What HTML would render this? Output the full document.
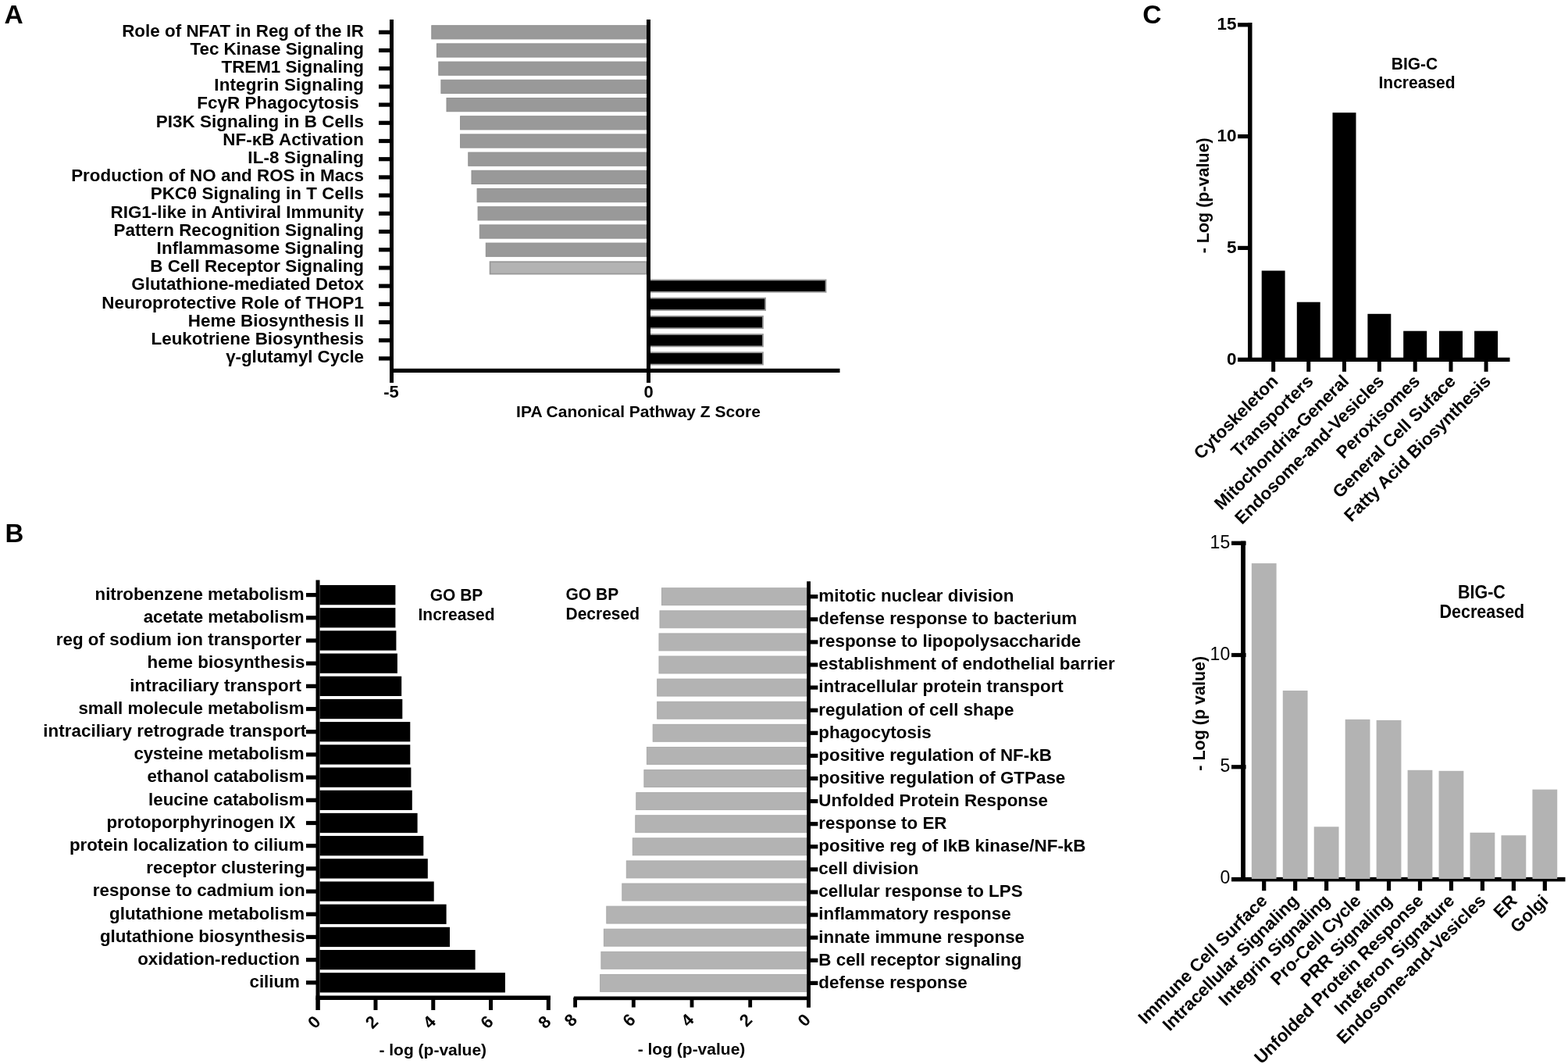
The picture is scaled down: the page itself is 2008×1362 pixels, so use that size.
<!DOCTYPE html>
<html><head><meta charset="utf-8"><title>Figure</title>
<style>
html,body{margin:0;padding:0;background:#fff;overflow:hidden;width:2008px;height:1362px;}
svg{display:block;}
text{font-family:'Liberation Sans', Arial, Helvetica, sans-serif;fill:#000;}
</style></head>
<body>
<svg width="2008" height="1362" viewBox="0 0 2008 1362">
<rect x="0" y="0" width="2008" height="1362" fill="#fff"/>
<text x="5.50" y="30.00" font-size="33.5" font-weight="bold" text-anchor="start" >A</text>
<text x="6.50" y="693.60" font-size="33" font-weight="bold" text-anchor="start" >B</text>
<text x="1463.30" y="29.80" font-size="33.5" font-weight="bold" text-anchor="start" >C</text>
<rect x="552.80" y="32.70" width="275.20" height="17.20" fill="#999999" stroke="#909090" stroke-width="1"/>
<rect x="485.00" y="38.70" width="15.00" height="5.20" fill="#000" />
<text x="466.00" y="46.50" font-size="22.4" font-weight="bold" text-anchor="end"  textLength="309.81" lengthAdjust="spacing">Role of NFAT in Reg of the IR</text>
<rect x="559.40" y="55.90" width="268.60" height="17.20" fill="#999999" stroke="#909090" stroke-width="1"/>
<rect x="485.00" y="61.90" width="15.00" height="5.20" fill="#000" />
<text x="466.00" y="69.70" font-size="22.4" font-weight="bold" text-anchor="end"  textLength="222.45" lengthAdjust="spacing">Tec Kinase Signaling</text>
<rect x="561.80" y="79.10" width="266.20" height="17.20" fill="#999999" stroke="#909090" stroke-width="1"/>
<rect x="485.00" y="85.10" width="15.00" height="5.20" fill="#000" />
<text x="466.00" y="92.90" font-size="22.4" font-weight="bold" text-anchor="end"  textLength="182.48" lengthAdjust="spacing">TREM1 Signaling</text>
<rect x="564.90" y="102.30" width="263.10" height="17.20" fill="#999999" stroke="#909090" stroke-width="1"/>
<rect x="485.00" y="108.30" width="15.00" height="5.20" fill="#000" />
<text x="466.00" y="116.10" font-size="22.4" font-weight="bold" text-anchor="end"  textLength="191.70" lengthAdjust="spacing">Integrin Signaling</text>
<rect x="572.00" y="125.50" width="256.00" height="17.20" fill="#999999" stroke="#909090" stroke-width="1"/>
<rect x="485.00" y="131.50" width="15.00" height="5.20" fill="#000" />
<text x="466.00" y="139.30" font-size="22.4" font-weight="bold" text-anchor="end" style="white-space:pre"  textLength="213.78" lengthAdjust="spacing">FcγR Phagocytosis </text>
<rect x="589.60" y="148.70" width="238.40" height="17.20" fill="#999999" stroke="#909090" stroke-width="1"/>
<rect x="485.00" y="154.70" width="15.00" height="5.20" fill="#000" />
<text x="466.00" y="162.50" font-size="22.4" font-weight="bold" text-anchor="end"  textLength="266.32" lengthAdjust="spacing">PI3K Signaling in B Cells</text>
<rect x="589.60" y="171.90" width="238.40" height="17.20" fill="#999999" stroke="#909090" stroke-width="1"/>
<rect x="485.00" y="177.90" width="15.00" height="5.20" fill="#000" />
<text x="466.00" y="185.70" font-size="22.4" font-weight="bold" text-anchor="end"  textLength="180.79" lengthAdjust="spacing">NF-κB Activation</text>
<rect x="599.80" y="195.10" width="228.20" height="17.20" fill="#999999" stroke="#909090" stroke-width="1"/>
<rect x="485.00" y="201.10" width="15.00" height="5.20" fill="#000" />
<text x="466.00" y="208.90" font-size="22.4" font-weight="bold" text-anchor="end"  textLength="148.70" lengthAdjust="spacing">IL-8 Signaling</text>
<rect x="604.00" y="218.30" width="224.00" height="17.20" fill="#999999" stroke="#909090" stroke-width="1"/>
<rect x="485.00" y="224.30" width="15.00" height="5.20" fill="#000" />
<text x="466.00" y="232.10" font-size="22.4" font-weight="bold" text-anchor="end"  textLength="374.85" lengthAdjust="spacing">Production of NO and ROS in Macs</text>
<rect x="611.10" y="241.50" width="216.90" height="17.20" fill="#999999" stroke="#909090" stroke-width="1"/>
<rect x="485.00" y="247.50" width="15.00" height="5.20" fill="#000" />
<text x="466.00" y="255.30" font-size="22.4" font-weight="bold" text-anchor="end"  textLength="273.32" lengthAdjust="spacing">PKCθ Signaling in T Cells</text>
<rect x="612.10" y="264.70" width="215.90" height="17.20" fill="#999999" stroke="#909090" stroke-width="1"/>
<rect x="485.00" y="270.70" width="15.00" height="5.20" fill="#000" />
<text x="466.00" y="278.50" font-size="22.4" font-weight="bold" text-anchor="end"  textLength="324.51" lengthAdjust="spacing">RIG1-like in Antiviral Immunity</text>
<rect x="614.30" y="287.90" width="213.70" height="17.20" fill="#999999" stroke="#909090" stroke-width="1"/>
<rect x="485.00" y="293.90" width="15.00" height="5.20" fill="#000" />
<text x="466.00" y="301.70" font-size="22.4" font-weight="bold" text-anchor="end"  textLength="320.40" lengthAdjust="spacing">Pattern Recognition Signaling</text>
<rect x="622.30" y="311.10" width="205.70" height="17.20" fill="#999999" stroke="#909090" stroke-width="1"/>
<rect x="485.00" y="317.10" width="15.00" height="5.20" fill="#000" />
<text x="466.00" y="324.90" font-size="22.4" font-weight="bold" text-anchor="end"  textLength="265.38" lengthAdjust="spacing">Inflammasome Signaling</text>
<rect x="627.60" y="335.20" width="200.40" height="15.40" fill="#b3b3b3" stroke="#999999" stroke-width="1.8"/>
<rect x="485.00" y="340.30" width="15.00" height="5.20" fill="#000" />
<text x="466.00" y="348.10" font-size="22.4" font-weight="bold" text-anchor="end"  textLength="273.72" lengthAdjust="spacing">B Cell Receptor Signaling</text>
<rect x="830.00" y="358.40" width="227.60" height="15.40" fill="#000" stroke="#999999" stroke-width="1.8"/>
<rect x="485.00" y="363.50" width="15.00" height="5.20" fill="#000" />
<text x="466.00" y="371.30" font-size="22.4" font-weight="bold" text-anchor="end"  textLength="297.68" lengthAdjust="spacing">Glutathione-mediated Detox</text>
<rect x="830.00" y="381.60" width="150.10" height="15.40" fill="#000" stroke="#999999" stroke-width="1.8"/>
<rect x="485.00" y="386.70" width="15.00" height="5.20" fill="#000" />
<text x="466.00" y="394.50" font-size="22.4" font-weight="bold" text-anchor="end"  textLength="335.77" lengthAdjust="spacing">Neuroprotective Role of THOP1</text>
<rect x="830.00" y="404.80" width="147.00" height="15.40" fill="#000" stroke="#999999" stroke-width="1.8"/>
<rect x="485.00" y="409.90" width="15.00" height="5.20" fill="#000" />
<text x="466.00" y="417.70" font-size="22.4" font-weight="bold" text-anchor="end"  textLength="225.13" lengthAdjust="spacing">Heme Biosynthesis II</text>
<rect x="830.00" y="428.00" width="147.00" height="15.40" fill="#000" stroke="#999999" stroke-width="1.8"/>
<rect x="485.00" y="433.10" width="15.00" height="5.20" fill="#000" />
<text x="466.00" y="440.90" font-size="22.4" font-weight="bold" text-anchor="end"  textLength="272.50" lengthAdjust="spacing">Leukotriene Biosynthesis</text>
<rect x="830.00" y="451.20" width="147.00" height="15.40" fill="#000" stroke="#999999" stroke-width="1.8"/>
<rect x="485.00" y="456.30" width="15.00" height="5.20" fill="#000" />
<text x="466.00" y="464.10" font-size="22.4" font-weight="bold" text-anchor="end"  textLength="176.75" lengthAdjust="spacing">γ-glutamyl Cycle</text>
<rect x="499.00" y="25.00" width="5.00" height="465.00" fill="#000" />
<rect x="828.00" y="25.00" width="5.00" height="465.00" fill="#000" />
<rect x="499.00" y="471.80" width="576.50" height="5.20" fill="#000" />
<text x="501.00" y="509.00" font-size="22" font-weight="bold" text-anchor="middle" >-5</text>
<text x="830.50" y="509.00" font-size="22" font-weight="bold" text-anchor="middle" >0</text>
<text x="817.50" y="534.00" font-size="21" font-weight="bold" text-anchor="middle" >IPA Canonical Pathway Z Score</text>
<rect x="409.50" y="748.95" width="96.90" height="25.30" fill="#000" />
<rect x="392.00" y="759.00" width="13.00" height="5.20" fill="#000" />
<text x="389.60" y="767.90" font-size="22.35" font-weight="bold" text-anchor="end"  textLength="268.02" lengthAdjust="spacing">nitrobenzene metabolism</text>
<rect x="409.50" y="778.14" width="96.90" height="25.30" fill="#000" />
<rect x="392.00" y="788.19" width="13.00" height="5.20" fill="#000" />
<text x="389.60" y="797.09" font-size="22.35" font-weight="bold" text-anchor="end"  textLength="205.89" lengthAdjust="spacing">acetate metabolism</text>
<rect x="409.50" y="807.33" width="97.90" height="25.30" fill="#000" />
<rect x="392.00" y="817.38" width="13.00" height="5.20" fill="#000" />
<text x="385.90" y="826.28" font-size="22.35" font-weight="bold" text-anchor="end"  textLength="314.24" lengthAdjust="spacing">reg of sodium ion transporter</text>
<rect x="409.50" y="836.52" width="99.40" height="25.30" fill="#000" />
<rect x="392.00" y="846.57" width="13.00" height="5.20" fill="#000" />
<text x="390.40" y="855.47" font-size="22.35" font-weight="bold" text-anchor="end"  textLength="201.87" lengthAdjust="spacing">heme biosynthesis</text>
<rect x="409.50" y="865.71" width="104.70" height="25.30" fill="#000" />
<rect x="392.00" y="875.76" width="13.00" height="5.20" fill="#000" />
<text x="385.90" y="884.66" font-size="22.35" font-weight="bold" text-anchor="end"  textLength="219.60" lengthAdjust="spacing">intraciliary transport</text>
<rect x="409.50" y="894.90" width="105.80" height="25.30" fill="#000" />
<rect x="392.00" y="904.95" width="13.00" height="5.20" fill="#000" />
<text x="389.60" y="913.85" font-size="22.35" font-weight="bold" text-anchor="end"  textLength="289.18" lengthAdjust="spacing">small molecule metabolism</text>
<rect x="409.50" y="924.09" width="115.80" height="25.30" fill="#000" />
<rect x="392.00" y="934.14" width="13.00" height="5.20" fill="#000" />
<text x="392.10" y="943.04" font-size="22.35" font-weight="bold" text-anchor="end"  textLength="336.77" lengthAdjust="spacing">intraciliary retrograde transport</text>
<rect x="409.50" y="953.28" width="115.80" height="25.30" fill="#000" />
<rect x="392.00" y="963.33" width="13.00" height="5.20" fill="#000" />
<text x="389.60" y="972.23" font-size="22.35" font-weight="bold" text-anchor="end"  textLength="218.21" lengthAdjust="spacing">cysteine metabolism</text>
<rect x="409.50" y="982.47" width="116.90" height="25.30" fill="#000" />
<rect x="392.00" y="992.52" width="13.00" height="5.20" fill="#000" />
<text x="389.60" y="1001.42" font-size="22.35" font-weight="bold" text-anchor="end"  textLength="201.09" lengthAdjust="spacing">ethanol catabolism</text>
<rect x="409.50" y="1011.66" width="118.30" height="25.30" fill="#000" />
<rect x="392.00" y="1021.71" width="13.00" height="5.20" fill="#000" />
<text x="389.60" y="1030.61" font-size="22.35" font-weight="bold" text-anchor="end"  textLength="199.54" lengthAdjust="spacing">leucine catabolism</text>
<rect x="409.50" y="1040.85" width="125.10" height="25.30" fill="#000" />
<rect x="392.00" y="1050.90" width="13.00" height="5.20" fill="#000" />
<text x="378.50" y="1059.80" font-size="22.35" font-weight="bold" text-anchor="end"  textLength="242.05" lengthAdjust="spacing">protoporphyrinogen IX</text>
<rect x="409.50" y="1070.04" width="132.80" height="25.30" fill="#000" />
<rect x="392.00" y="1080.09" width="13.00" height="5.20" fill="#000" />
<text x="389.60" y="1088.99" font-size="22.35" font-weight="bold" text-anchor="end"  textLength="300.67" lengthAdjust="spacing">protein localization to cilium</text>
<rect x="409.50" y="1099.23" width="138.30" height="25.30" fill="#000" />
<rect x="392.00" y="1109.28" width="13.00" height="5.20" fill="#000" />
<text x="390.40" y="1118.18" font-size="22.35" font-weight="bold" text-anchor="end"  textLength="203.11" lengthAdjust="spacing">receptor clustering</text>
<rect x="409.50" y="1128.42" width="146.20" height="25.30" fill="#000" />
<rect x="392.00" y="1138.47" width="13.00" height="5.20" fill="#000" />
<text x="390.70" y="1147.37" font-size="22.35" font-weight="bold" text-anchor="end"  textLength="271.86" lengthAdjust="spacing">response to cadmium ion</text>
<rect x="409.50" y="1157.61" width="162.10" height="25.30" fill="#000" />
<rect x="392.00" y="1167.66" width="13.00" height="5.20" fill="#000" />
<text x="390.00" y="1176.56" font-size="22.35" font-weight="bold" text-anchor="end"  textLength="249.88" lengthAdjust="spacing">glutathione metabolism</text>
<rect x="409.50" y="1186.80" width="166.50" height="25.30" fill="#000" />
<rect x="392.00" y="1196.85" width="13.00" height="5.20" fill="#000" />
<text x="390.70" y="1205.75" font-size="22.35" font-weight="bold" text-anchor="end"  textLength="262.79" lengthAdjust="spacing">glutathione biosynthesis</text>
<rect x="409.50" y="1215.99" width="199.10" height="25.30" fill="#000" />
<rect x="392.00" y="1226.04" width="13.00" height="5.20" fill="#000" />
<text x="383.90" y="1234.94" font-size="22.35" font-weight="bold" text-anchor="end"  textLength="207.75" lengthAdjust="spacing">oxidation-reduction</text>
<rect x="409.50" y="1245.18" width="237.40" height="25.30" fill="#000" />
<rect x="392.00" y="1255.23" width="13.00" height="5.20" fill="#000" />
<text x="383.90" y="1264.13" font-size="22.35" font-weight="bold" text-anchor="end"  textLength="64.38" lengthAdjust="spacing">cilium</text>
<rect x="404.50" y="742.50" width="5.00" height="550.50" fill="#000" />
<rect x="404.50" y="1274.50" width="300.50" height="5.50" fill="#000" />
<rect x="404.70" y="1277.00" width="5.00" height="16.00" fill="#000" />
<text x="401.90" y="1315.88" font-size="22" font-weight="bold" text-anchor="middle" transform="rotate(-45 401.90 1308.00)">0</text>
<rect x="478.48" y="1277.00" width="5.00" height="16.00" fill="#000" />
<text x="475.68" y="1315.88" font-size="22" font-weight="bold" text-anchor="middle" transform="rotate(-45 475.68 1308.00)">2</text>
<rect x="552.26" y="1277.00" width="5.00" height="16.00" fill="#000" />
<text x="549.46" y="1315.88" font-size="22" font-weight="bold" text-anchor="middle" transform="rotate(-45 549.46 1308.00)">4</text>
<rect x="626.04" y="1277.00" width="5.00" height="16.00" fill="#000" />
<text x="623.24" y="1315.88" font-size="22" font-weight="bold" text-anchor="middle" transform="rotate(-45 623.24 1308.00)">6</text>
<rect x="699.82" y="1277.00" width="5.00" height="16.00" fill="#000" />
<text x="697.02" y="1315.88" font-size="22" font-weight="bold" text-anchor="middle" transform="rotate(-45 697.02 1308.00)">8</text>
<text x="554.30" y="1351.00" font-size="21" font-weight="bold" text-anchor="middle" >- log (p-value)</text>
<text x="0" y="0" font-size="21" font-weight="bold" text-anchor="middle" transform="translate(584.50 769.00) scale(1 1.07)">GO BP</text>
<text x="0" y="0" font-size="21" font-weight="bold" text-anchor="middle" transform="translate(584.50 793.50) scale(1 1.07)">Increased</text>
<rect x="847.50" y="752.75" width="185.50" height="21.90" fill="#b3b3b3" stroke="#aaaaaa" stroke-width="1"/>
<rect x="1037.00" y="761.10" width="10.40" height="5.20" fill="#000" />
<text x="1048.30" y="770.00" font-size="22.4" font-weight="bold" text-anchor="start" >mitotic nuclear division</text>
<rect x="845.00" y="781.85" width="188.00" height="21.90" fill="#b3b3b3" stroke="#aaaaaa" stroke-width="1"/>
<rect x="1037.00" y="790.20" width="10.40" height="5.20" fill="#000" />
<text x="1048.30" y="799.10" font-size="22.4" font-weight="bold" text-anchor="start" >defense response to bacterium</text>
<rect x="844.00" y="810.95" width="189.00" height="21.90" fill="#b3b3b3" stroke="#aaaaaa" stroke-width="1"/>
<rect x="1037.00" y="819.30" width="10.40" height="5.20" fill="#000" />
<text x="1048.30" y="828.20" font-size="22.4" font-weight="bold" text-anchor="start" >response to lipopolysaccharide</text>
<rect x="844.00" y="840.05" width="189.00" height="21.90" fill="#b3b3b3" stroke="#aaaaaa" stroke-width="1"/>
<rect x="1037.00" y="848.40" width="10.40" height="5.20" fill="#000" />
<text x="1048.30" y="857.30" font-size="22.4" font-weight="bold" text-anchor="start" >establishment of endothelial barrier</text>
<rect x="841.70" y="869.15" width="191.30" height="21.90" fill="#b3b3b3" stroke="#aaaaaa" stroke-width="1"/>
<rect x="1037.00" y="877.50" width="10.40" height="5.20" fill="#000" />
<text x="1048.30" y="886.40" font-size="22.4" font-weight="bold" text-anchor="start" >intracellular protein transport</text>
<rect x="841.70" y="898.25" width="191.30" height="21.90" fill="#b3b3b3" stroke="#aaaaaa" stroke-width="1"/>
<rect x="1037.00" y="906.60" width="10.40" height="5.20" fill="#000" />
<text x="1048.30" y="915.50" font-size="22.4" font-weight="bold" text-anchor="start" >regulation of cell shape</text>
<rect x="836.20" y="927.35" width="196.80" height="21.90" fill="#b3b3b3" stroke="#aaaaaa" stroke-width="1"/>
<rect x="1037.00" y="935.70" width="10.40" height="5.20" fill="#000" />
<text x="1048.30" y="944.60" font-size="22.4" font-weight="bold" text-anchor="start" >phagocytosis</text>
<rect x="828.40" y="956.45" width="204.60" height="21.90" fill="#b3b3b3" stroke="#aaaaaa" stroke-width="1"/>
<rect x="1037.00" y="964.80" width="10.40" height="5.20" fill="#000" />
<text x="1048.30" y="973.70" font-size="22.4" font-weight="bold" text-anchor="start" >positive regulation of NF-kB</text>
<rect x="824.90" y="985.55" width="208.10" height="21.90" fill="#b3b3b3" stroke="#aaaaaa" stroke-width="1"/>
<rect x="1037.00" y="993.90" width="10.40" height="5.20" fill="#000" />
<text x="1048.30" y="1002.80" font-size="22.4" font-weight="bold" text-anchor="start" >positive regulation of GTPase</text>
<rect x="814.80" y="1014.65" width="218.20" height="21.90" fill="#b3b3b3" stroke="#aaaaaa" stroke-width="1"/>
<rect x="1037.00" y="1023.00" width="10.40" height="5.20" fill="#000" />
<text x="1048.30" y="1031.90" font-size="22.4" font-weight="bold" text-anchor="start" >Unfolded Protein Response</text>
<rect x="813.80" y="1043.75" width="219.20" height="21.90" fill="#b3b3b3" stroke="#aaaaaa" stroke-width="1"/>
<rect x="1037.00" y="1052.10" width="10.40" height="5.20" fill="#000" />
<text x="1048.30" y="1061.00" font-size="22.4" font-weight="bold" text-anchor="start" >response to ER</text>
<rect x="810.30" y="1072.85" width="222.70" height="21.90" fill="#b3b3b3" stroke="#aaaaaa" stroke-width="1"/>
<rect x="1037.00" y="1081.20" width="10.40" height="5.20" fill="#000" />
<text x="1048.30" y="1090.10" font-size="22.4" font-weight="bold" text-anchor="start" >positive reg of IkB kinase/NF-kB</text>
<rect x="802.30" y="1101.95" width="230.70" height="21.90" fill="#b3b3b3" stroke="#aaaaaa" stroke-width="1"/>
<rect x="1037.00" y="1110.30" width="10.40" height="5.20" fill="#000" />
<text x="1048.30" y="1119.20" font-size="22.4" font-weight="bold" text-anchor="start" >cell division</text>
<rect x="796.80" y="1131.05" width="236.20" height="21.90" fill="#b3b3b3" stroke="#aaaaaa" stroke-width="1"/>
<rect x="1037.00" y="1139.40" width="10.40" height="5.20" fill="#000" />
<text x="1048.30" y="1148.30" font-size="22.4" font-weight="bold" text-anchor="start" >cellular response to LPS</text>
<rect x="776.80" y="1160.15" width="256.20" height="21.90" fill="#b3b3b3" stroke="#aaaaaa" stroke-width="1"/>
<rect x="1037.00" y="1168.50" width="10.40" height="5.20" fill="#000" />
<text x="1048.30" y="1177.40" font-size="22.4" font-weight="bold" text-anchor="start" >inflammatory response</text>
<rect x="773.40" y="1189.25" width="259.60" height="21.90" fill="#b3b3b3" stroke="#aaaaaa" stroke-width="1"/>
<rect x="1037.00" y="1197.60" width="10.40" height="5.20" fill="#000" />
<text x="1048.30" y="1206.50" font-size="22.4" font-weight="bold" text-anchor="start" >innate immune response</text>
<rect x="769.90" y="1218.35" width="263.10" height="21.90" fill="#b3b3b3" stroke="#aaaaaa" stroke-width="1"/>
<rect x="1037.00" y="1226.70" width="10.40" height="5.20" fill="#000" />
<text x="1048.30" y="1235.60" font-size="22.4" font-weight="bold" text-anchor="start" >B cell receptor signaling</text>
<rect x="768.60" y="1247.45" width="264.40" height="21.90" fill="#b3b3b3" stroke="#aaaaaa" stroke-width="1"/>
<rect x="1037.00" y="1255.80" width="10.40" height="5.20" fill="#000" />
<text x="1048.30" y="1264.70" font-size="22.4" font-weight="bold" text-anchor="start" >defense response</text>
<rect x="1033.20" y="744.20" width="4.80" height="545.30" fill="#000" />
<rect x="734.80" y="1275.50" width="303.20" height="4.70" fill="#000" />
<rect x="734.20" y="1277.00" width="4.80" height="12.50" fill="#000" />
<text x="730.60" y="1313.38" font-size="22" font-weight="bold" text-anchor="middle" transform="rotate(-45 730.60 1305.50)">8</text>
<rect x="808.90" y="1277.00" width="4.80" height="12.50" fill="#000" />
<text x="805.30" y="1313.38" font-size="22" font-weight="bold" text-anchor="middle" transform="rotate(-45 805.30 1305.50)">6</text>
<rect x="883.60" y="1277.00" width="4.80" height="12.50" fill="#000" />
<text x="880.00" y="1313.38" font-size="22" font-weight="bold" text-anchor="middle" transform="rotate(-45 880.00 1305.50)">4</text>
<rect x="958.30" y="1277.00" width="4.80" height="12.50" fill="#000" />
<text x="954.70" y="1313.38" font-size="22" font-weight="bold" text-anchor="middle" transform="rotate(-45 954.70 1305.50)">2</text>
<rect x="1033.00" y="1277.00" width="4.80" height="12.50" fill="#000" />
<text x="1029.40" y="1313.38" font-size="22" font-weight="bold" text-anchor="middle" transform="rotate(-45 1029.40 1305.50)">0</text>
<text x="885.50" y="1349.50" font-size="21" font-weight="bold" text-anchor="middle" >- log (p-value)</text>
<text x="0" y="0" font-size="21" font-weight="bold" text-anchor="start" transform="translate(724.50 767.60) scale(1 1.07)">GO BP</text>
<text x="0" y="0" font-size="21" font-weight="bold" text-anchor="start" transform="translate(724.50 792.60) scale(1 1.07)">Decresed</text>
<rect x="1598.00" y="29.00" width="5.50" height="434.00" fill="#000" />
<rect x="1585.00" y="457.70" width="348.50" height="5.30" fill="#000" />
<rect x="1585.00" y="29.20" width="15.00" height="5.20" fill="#000" />
<rect x="1585.00" y="172.00" width="15.00" height="5.20" fill="#000" />
<rect x="1585.00" y="314.80" width="15.00" height="5.20" fill="#000" />
<text x="1583.60" y="38.40" font-size="22.5" font-weight="bold" text-anchor="end" >15</text>
<text x="1583.60" y="181.20" font-size="22.5" font-weight="bold" text-anchor="end" >10</text>
<text x="1583.60" y="324.00" font-size="22.5" font-weight="bold" text-anchor="end" >5</text>
<text x="1583.60" y="466.80" font-size="22.5" font-weight="bold" text-anchor="end" >0</text>
<rect x="1615.70" y="346.50" width="29.90" height="113.50" fill="#000" />
<rect x="1628.15" y="460.00" width="5.00" height="15.80" fill="#000" />
<text x="1637.95" y="489.30" font-size="22.5" font-weight="bold" text-anchor="end" transform="rotate(-45 1637.95 489.30)">Cytoskeleton</text>
<rect x="1660.80" y="386.70" width="29.90" height="73.30" fill="#000" />
<rect x="1673.25" y="460.00" width="5.00" height="15.80" fill="#000" />
<text x="1683.05" y="489.30" font-size="22.5" font-weight="bold" text-anchor="end" transform="rotate(-45 1683.05 489.30)">Transporters</text>
<rect x="1706.50" y="144.20" width="30.00" height="315.80" fill="#000" />
<rect x="1719.00" y="460.00" width="5.00" height="15.80" fill="#000" />
<text x="1728.80" y="489.30" font-size="22.5" font-weight="bold" text-anchor="end" transform="rotate(-45 1728.80 489.30)">Mitochondria-General</text>
<rect x="1751.40" y="401.80" width="29.90" height="58.20" fill="#000" />
<rect x="1763.85" y="460.00" width="5.00" height="15.80" fill="#000" />
<text x="1773.65" y="489.30" font-size="22.5" font-weight="bold" text-anchor="end" transform="rotate(-45 1773.65 489.30)">Endosome-and-Vesicles</text>
<rect x="1797.20" y="423.70" width="30.00" height="36.30" fill="#000" />
<rect x="1809.70" y="460.00" width="5.00" height="15.80" fill="#000" />
<text x="1819.50" y="489.30" font-size="22.5" font-weight="bold" text-anchor="end" transform="rotate(-45 1819.50 489.30)">Peroxisomes</text>
<rect x="1843.00" y="423.70" width="30.00" height="36.30" fill="#000" />
<rect x="1855.50" y="460.00" width="5.00" height="15.80" fill="#000" />
<text x="1865.30" y="489.30" font-size="22.5" font-weight="bold" text-anchor="end" transform="rotate(-45 1865.30 489.30)">General Cell Suface</text>
<rect x="1888.10" y="423.70" width="30.00" height="36.30" fill="#000" />
<rect x="1900.60" y="460.00" width="5.00" height="15.80" fill="#000" />
<text x="1910.40" y="489.30" font-size="22.5" font-weight="bold" text-anchor="end" transform="rotate(-45 1910.40 489.30)">Fatty Acid Biosynthesis</text>
<text x="0" y="0" font-size="21" font-weight="bold" text-anchor="middle" transform="translate(1811.50 88.50) scale(1 1.07)">BIG-C</text>
<text x="0" y="0" font-size="21" font-weight="bold" text-anchor="middle" transform="translate(1814.50 113.30) scale(1 1.07)">Increased</text>
<text x="0" y="0" font-size="21.5" font-weight="bold" text-anchor="middle" transform="translate(1548 250.3) rotate(-90)">- Log (p-value)</text>
<rect x="1589.10" y="692.60" width="5.80" height="435.40" fill="#000" />
<rect x="1577.00" y="1122.90" width="427.50" height="5.50" fill="#000" />
<rect x="1577.00" y="692.65" width="18.60" height="5.20" fill="#000" />
<rect x="1577.00" y="835.90" width="18.60" height="5.20" fill="#000" />
<rect x="1577.00" y="979.15" width="18.60" height="5.20" fill="#000" />
<text x="1575.20" y="701.55" font-size="23" font-weight="normal" text-anchor="end" >15</text>
<text x="1575.20" y="844.80" font-size="23" font-weight="normal" text-anchor="end" >10</text>
<text x="1575.20" y="988.05" font-size="23" font-weight="normal" text-anchor="end" >5</text>
<text x="1575.20" y="1131.30" font-size="23" font-weight="normal" text-anchor="end" >0</text>
<rect x="1602.80" y="721.10" width="31.80" height="403.90" fill="#b3b3b3" />
<rect x="1616.10" y="1125.00" width="5.20" height="15.20" fill="#000" />
<text x="1624.20" y="1154.50" font-size="22.5" font-weight="bold" text-anchor="end" transform="rotate(-45 1624.20 1154.50)">Immune Cell Surface</text>
<rect x="1642.76" y="884.00" width="31.80" height="241.00" fill="#b3b3b3" />
<rect x="1656.06" y="1125.00" width="5.20" height="15.20" fill="#000" />
<text x="1664.16" y="1154.50" font-size="22.5" font-weight="bold" text-anchor="end" transform="rotate(-45 1664.16 1154.50)">Intracellular Signaling</text>
<rect x="1682.72" y="1058.30" width="31.80" height="66.70" fill="#b3b3b3" />
<rect x="1696.02" y="1125.00" width="5.20" height="15.20" fill="#000" />
<text x="1704.12" y="1154.50" font-size="22.5" font-weight="bold" text-anchor="end" transform="rotate(-45 1704.12 1154.50)">Integrin Signaling</text>
<rect x="1722.68" y="920.90" width="31.80" height="204.10" fill="#b3b3b3" />
<rect x="1735.98" y="1125.00" width="5.20" height="15.20" fill="#000" />
<text x="1744.08" y="1154.50" font-size="22.5" font-weight="bold" text-anchor="end" transform="rotate(-45 1744.08 1154.50)">Pro-Cell Cycle</text>
<rect x="1762.64" y="921.90" width="31.80" height="203.10" fill="#b3b3b3" />
<rect x="1775.94" y="1125.00" width="5.20" height="15.20" fill="#000" />
<text x="1784.04" y="1154.50" font-size="22.5" font-weight="bold" text-anchor="end" transform="rotate(-45 1784.04 1154.50)">PRR Signaling</text>
<rect x="1802.60" y="985.80" width="31.80" height="139.20" fill="#b3b3b3" />
<rect x="1815.90" y="1125.00" width="5.20" height="15.20" fill="#000" />
<text x="1824.00" y="1154.50" font-size="22.5" font-weight="bold" text-anchor="end" transform="rotate(-45 1824.00 1154.50)">Unfolded Protein Response</text>
<rect x="1842.56" y="986.80" width="31.80" height="138.20" fill="#b3b3b3" />
<rect x="1855.86" y="1125.00" width="5.20" height="15.20" fill="#000" />
<text x="1863.96" y="1154.50" font-size="22.5" font-weight="bold" text-anchor="end" transform="rotate(-45 1863.96 1154.50)">Inteferon Signature</text>
<rect x="1882.52" y="1065.80" width="31.80" height="59.20" fill="#b3b3b3" />
<rect x="1895.82" y="1125.00" width="5.20" height="15.20" fill="#000" />
<text x="1903.92" y="1154.50" font-size="22.5" font-weight="bold" text-anchor="end" transform="rotate(-45 1903.92 1154.50)">Endosome-and-Vesicles</text>
<rect x="1922.48" y="1069.30" width="31.80" height="55.70" fill="#b3b3b3" />
<rect x="1935.78" y="1125.00" width="5.20" height="15.20" fill="#000" />
<text x="1943.88" y="1154.50" font-size="22.5" font-weight="bold" text-anchor="end" transform="rotate(-45 1943.88 1154.50)">ER</text>
<rect x="1962.44" y="1010.60" width="31.80" height="114.40" fill="#b3b3b3" />
<rect x="1975.74" y="1125.00" width="5.20" height="15.20" fill="#000" />
<text x="1983.84" y="1154.50" font-size="22.5" font-weight="bold" text-anchor="end" transform="rotate(-45 1983.84 1154.50)">Golgi</text>
<text x="0" y="0" font-size="21.5" font-weight="bold" text-anchor="middle" transform="translate(1897.40 765.80) scale(1 1.07)">BIG-C</text>
<text x="0" y="0" font-size="21.5" font-weight="bold" text-anchor="middle" transform="translate(1897.90 790.50) scale(1 1.07)">Decreased</text>
<text x="0" y="0" font-size="21.5" font-weight="bold" text-anchor="middle" transform="translate(1542.6 913.3) rotate(-90)">- Log (p value)</text>
</svg>
</body></html>
